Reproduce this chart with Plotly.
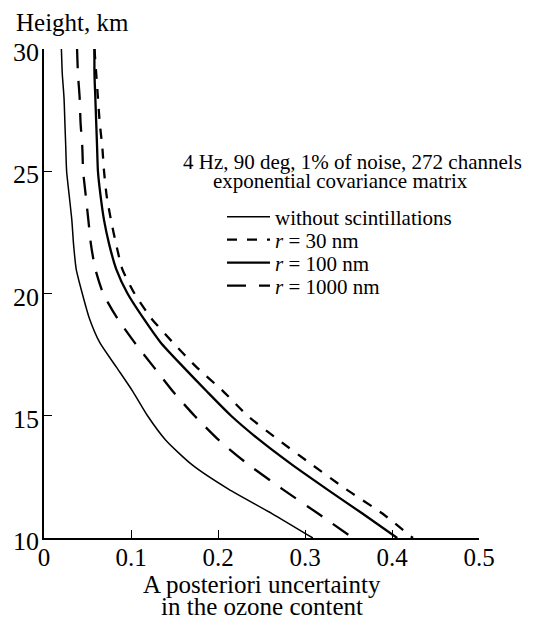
import plotly.graph_objects as go

heights = [30, 29, 28, 27, 26, 25, 24, 23, 22, 21, 20, 19, 18, 17, 16, 15, 14, 13, 12, 11, 10]

no_scint = [0.020, 0.021, 0.023, 0.024, 0.025, 0.026, 0.029, 0.032, 0.034, 0.037, 0.044,
            0.052, 0.064, 0.083, 0.102, 0.119, 0.140, 0.170, 0.212, 0.262, 0.309]
r30 = [0.058, 0.060, 0.062, 0.064, 0.067, 0.069, 0.072, 0.077, 0.083, 0.090, 0.104,
       0.123, 0.148, 0.175, 0.206, 0.234, 0.270, 0.308, 0.347, 0.389, 0.424]
r100 = [0.058, 0.058, 0.059, 0.060, 0.061, 0.062, 0.065, 0.069, 0.075, 0.083, 0.096,
        0.114, 0.134, 0.160, 0.187, 0.215, 0.248, 0.285, 0.325, 0.366, 0.406]
r1000 = [0.038, 0.039, 0.041, 0.042, 0.044, 0.045, 0.048, 0.051, 0.054, 0.059, 0.068,
         0.084, 0.104, 0.126, 0.148, 0.173, 0.201, 0.235, 0.274, 0.315, 0.355]

names = ["without scintillations", "<i>r</i> = 30 nm", "<i>r</i> = 100 nm", "<i>r</i> = 1000 nm"]
series = [no_scint, r30, r100, r1000]
styles = [
    dict(width=1.5, dash="solid"),
    dict(width=2.3, dash="10px,10px"),
    dict(width=2.3, dash="solid"),
    dict(width=2.3, dash="19px,13px"),
]
legend_ids = ["legend", "legend2", "legend3", "legend4"]
legend_rows_px = [217, 240, 263, 286]

x_ticks = [0, 0.1, 0.2, 0.3, 0.4, 0.5]
x_tick_text = ["0", "0.1", "0.2", "0.3", "0.4", "0.5"]
y_ticks = [10, 15, 20, 25, 30]

FONT = "Liberation Serif"
PLOT_TOP, PLOT_BOTTOM, PLOT_LEFT, PLOT_W = 49, 538, 44, 435
PLOT_H = PLOT_BOTTOM - PLOT_TOP

fig = go.Figure()
for name, vals, st, lg in zip(names, series, styles, legend_ids):
    fig.add_trace(go.Scatter(
        x=vals, y=heights, mode="lines", name=name, legend=lg,
        line=dict(color="black", shape="spline", smoothing=0.6, **st),
    ))

legend_layout = {}
for lg, row in zip(legend_ids, legend_rows_px):
    legend_layout[lg] = dict(
        x=(222 - PLOT_LEFT) / PLOT_W, y=(PLOT_BOTTOM - row) / PLOT_H,
        xanchor="left", yanchor="middle",
        font=dict(family=FONT, size=21, color="black"),
        bgcolor="rgba(0,0,0,0)", itemwidth=43, borderwidth=0,
    )

fig.update_layout(
    width=534, height=621,
    margin=dict(l=PLOT_LEFT, r=534 - PLOT_LEFT - PLOT_W, t=PLOT_TOP, b=621 - PLOT_BOTTOM),
    paper_bgcolor="white", plot_bgcolor="white",
    font=dict(family=FONT, color="black", size=26),
    showlegend=True,
    xaxis=dict(
        range=[0, 0.5], tickvals=x_ticks, ticktext=x_tick_text,
        showline=True, linecolor="black", linewidth=1.5,
        ticks="inside", ticklen=8, tickwidth=1.2, tickcolor="black",
        showgrid=False, zeroline=False, ticklabelstandoff=-4,
        tickfont=dict(family=FONT, size=25),
    ),
    yaxis=dict(
        range=[10, 30], tickvals=y_ticks,
        showline=True, linecolor="black", linewidth=1.5,
        ticks="inside", ticklen=8, tickwidth=1.2, tickcolor="black",
        showgrid=False, zeroline=False, ticklabelstandoff=-2, ticklabelshift=3,
        tickfont=dict(family=FONT, size=26),
    ),
    annotations=[
        dict(text="Height, km", xref="paper", yref="paper", x=-0.069,
             y=(PLOT_BOTTOM - 23) / PLOT_H,
             xanchor="left", yanchor="middle", showarrow=False,
             font=dict(family=FONT, size=25)),
        dict(text="A posteriori uncertainty", xref="paper", yref="paper", x=0.5,
             y=(PLOT_BOTTOM - 584) / PLOT_H,
             xanchor="center", yanchor="middle", showarrow=False,
             font=dict(family=FONT, size=25)),
        dict(text="in the ozone content", xref="paper", yref="paper", x=0.5,
             y=(PLOT_BOTTOM - 606) / PLOT_H,
             xanchor="center", yanchor="middle", showarrow=False,
             font=dict(family=FONT, size=25)),
        dict(text="4 Hz, 90 deg, 1% of noise, 272 channels", xref="paper", yref="paper",
             x=(352 - PLOT_LEFT) / PLOT_W, y=(PLOT_BOTTOM - 162) / PLOT_H,
             xanchor="center", yanchor="middle", showarrow=False,
             font=dict(family=FONT, size=21)),
        dict(text="exponential covariance matrix", xref="paper", yref="paper",
             x=(340 - PLOT_LEFT) / PLOT_W, y=(PLOT_BOTTOM - 181) / PLOT_H,
             xanchor="center", yanchor="middle", showarrow=False,
             font=dict(family=FONT, size=21)),
    ],
    **legend_layout,
)

fig.write_html("out.html")
